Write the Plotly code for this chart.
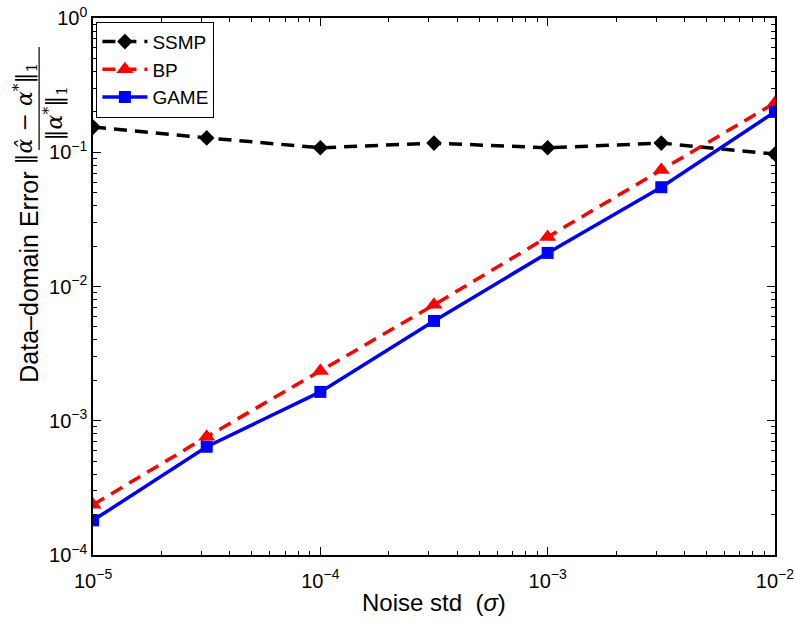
import plotly.graph_objects as go

sigma = [1e-5, 3.162e-5, 1e-4, 3.162e-4, 1e-3, 3.162e-3, 1e-2]
ssmp = [0.154, 0.128, 0.108, 0.117, 0.108, 0.117, 0.097]
bp = [2.37e-4, 7.6e-4, 2.35e-3, 7.3e-3, 0.0234, 0.0738, 0.233]
game = [1.81e-4, 6.4e-4, 1.64e-3, 5.54e-3, 0.0178, 0.0549, 0.200]

x_tickvals = [1e-5, 1e-4, 1e-3, 1e-2]
x_ticktext = ["10<sup>\u22125</sup>", "10<sup>\u22124</sup>", "10<sup>\u22123</sup>", "10<sup>\u22122</sup>"]
y_tickvals = [1e-4, 1e-3, 1e-2, 1e-1, 1]
y_ticktext = ["10<sup>\u22124</sup>", "10<sup>\u22123</sup>", "10<sup>\u22122</sup>", "10<sup>\u22121</sup>", "10<sup>0</sup>"]

FONT = "Liberation Sans, Arial, Helvetica, sans-serif"
DASH = "13px,8px"

fig = go.Figure()
fig.add_trace(go.Scatter(x=sigma, y=ssmp, name="SSMP", mode="lines+markers",
                         line=dict(color="black", width=3.5, dash=DASH),
                         marker=dict(symbol="diamond", size=12, color="black")))
fig.add_trace(go.Scatter(x=sigma, y=bp, name="BP", mode="lines+markers",
                         line=dict(color="#ff0000", width=3.5, dash=DASH),
                         marker=dict(symbol="triangle-up", size=15, color="#ff0000")))
fig.add_trace(go.Scatter(x=sigma, y=game, name="GAME", mode="lines+markers",
                         line=dict(color="#0000ff", width=3.5),
                         marker=dict(symbol="square", size=12, color="#0000ff")))

axis_common = dict(type="log", showgrid=False, zeroline=False, showline=True,
                   linecolor="black", linewidth=1.5, mirror="allticks",
                   ticks="inside", ticklen=8, tickwidth=1, tickcolor="black",
                   tickmode="array", ticklabeloverflow="allow", automargin=False,
                   tickfont=dict(family=FONT, size=20, color="black"),
                   minor=dict(ticks="inside", ticklen=4, tickcolor="black", dtick="D1"))

fig.update_xaxes(range=[-5.0003, -1.9997], tickvals=x_tickvals, ticktext=x_ticktext,
                 ticklabelstandoff=7, **axis_common)
fig.update_yaxes(range=[-4.0003, 0.0003], tickvals=y_tickvals, ticktext=y_ticktext,
                 **axis_common)

fig.update_layout(
    width=795, height=624,
    margin=dict(l=93, r=20, t=18, b=69),
    paper_bgcolor="white", plot_bgcolor="white",
    font=dict(family=FONT, size=20, color="black"),
    showlegend=True,
    legend=dict(x=0.005, y=0.993, xanchor="left", yanchor="top",
                bgcolor="white", bordercolor="black", borderwidth=1,
                font=dict(family=FONT, size=19, color="black"),
                itemwidth=45, tracegroupgap=0),
)

# axis titles as annotations
fig.add_annotation(text="Noise std  (<i>σ</i>)", xref="paper", yref="paper",
                   x=0.5, y=-0.089, xanchor="center", yanchor="middle",
                   showarrow=False, font=dict(family=FONT, size=24))
fig.add_annotation(text="Data\u2013domain Error", xref="paper", yref="paper",
                   x=-0.094, y=0.518, xanchor="center", yanchor="middle",
                   textangle=-90, showarrow=False, font=dict(family=FONT, size=25))
fig.add_annotation(text="‖<i>α\u0302</i> − <i>α</i><sup>*</sup>‖<sub>1</sub>",
                   xref="paper", yref="paper", x=-0.1, y=0.822,
                   xanchor="center", yanchor="middle", textangle=-90,
                   showarrow=False, font=dict(family="DejaVu Serif, serif", size=22))
fig.add_annotation(text="‖<i>α</i><sup>*</sup>‖<sub>1</sub>",
                   xref="paper", yref="paper", x=-0.056, y=0.822,
                   xanchor="center", yanchor="middle", textangle=-90,
                   showarrow=False, font=dict(family="DejaVu Serif, serif", size=22))
fig.add_shape(type="line", xref="paper", yref="paper",
              x0=-0.079, x1=-0.079, y0=0.754, y1=0.946,
              line=dict(color="black", width=1.2))

fig.write_html("out.html")
